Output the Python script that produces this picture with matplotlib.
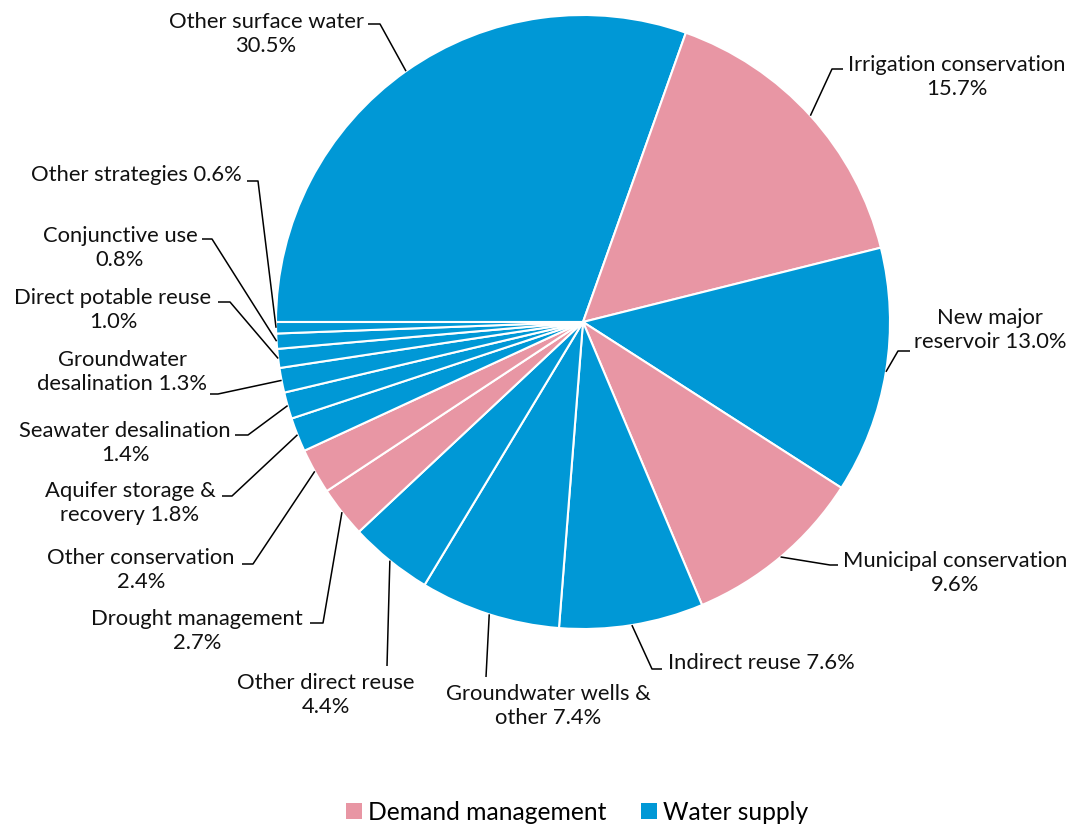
import numpy as np
import matplotlib.pyplot as plt
from matplotlib.patches import Patch

# === Data ===
labels = ["Other surface water\n30.5%", "Irrigation conservation\n15.7%",
          "New major\nreservoir 13.0%", "Municipal conservation\n9.6%",
          "Indirect reuse 7.6%", "Groundwater wells &\nother 7.4%",
          "Other direct reuse\n4.4%", "Drought management\n2.7%",
          "Other conservation\n2.4%", "Aquifer storage &\nrecovery 1.8%",
          "Seawater desalination\n1.4%", "Groundwater\ndesalination 1.3%",
          "Direct potable reuse\n1.0%", "Conjunctive use\n0.8%",
          "Other strategies 0.6%"]
shares = [30.5, 15.7, 13.0, 9.6, 7.6, 7.4, 4.4, 2.7, 2.4, 1.8, 1.4, 1.3, 1.0, 0.8, 0.6]
groups = ["supply", "demand", "supply", "demand", "supply", "supply", "supply",
          "demand", "demand", "supply", "supply", "supply", "supply", "supply", "supply"]

colors = {"demand": "#E896A4", "supply": "#0098D6"}
legend_names = {"demand": "Demand management", "supply": "Water supply"}

# === Layout (pixel coords, y from top) ===
W, H = 1070, 829
cx, cy, R = 583, 323, 307
# label block centre, then leader path after the wedge anchor
text_pos = [(266, 34), (957, 77), (990, 330), (955, 573), (761, 663),
            (548, 706), (326, 695), (197, 631), (141, 570), (130, 503),
            (125, 443), (122, 372), (113, 310), (120, 248), (136, 175)]
leader_pts = [[(380, 25), (368, 25)], [(832, 70), (843, 70)],
              [(898, 352), (910, 352)], [(830, 566), (838, 566)],
              [(652, 670), (662, 670)], [(486, 678)], [(387, 667)],
              [(323, 624), (310, 624)], [(253, 565), (242, 565)],
              [(232, 497), (222, 497)], [(248, 436), (235, 436)],
              [(218, 395), (210, 395)], [(230, 303), (218, 303)],
              [(212, 240), (202, 240)], [(258, 182), (247, 182)]]

plt.rcParams["font.family"] = ["Lato", "DejaVu Sans"]

fig = plt.figure(figsize=(W / 100, H / 100), dpi=100)
ax = fig.add_axes([0, 0, 1, 1])

wedges, _ = ax.pie(shares, colors=[colors[g] for g in groups], startangle=180,
                   counterclock=False, center=(cx, H - cy), radius=R,
                   wedgeprops=dict(edgecolor="white", linewidth=1.5))
ax.set_xlim(0, W)
ax.set_ylim(0, H)
ax.set_aspect("equal")
ax.axis("off")

# === Labels with leader lines ===
for w, lab, tp, pts in zip(wedges, labels, text_pos, leader_pts):
    ang = np.deg2rad((w.theta1 + w.theta2) / 2)
    ax0 = cx + R * np.cos(ang)
    ay0 = (H - cy) + R * np.sin(ang)
    xs = [ax0] + [p[0] for p in pts]
    ys = [ay0] + [H - p[1] for p in pts]
    ax.plot(xs, ys, color="black", lw=1.1, solid_capstyle="butt")
    ax.text(tp[0], H - tp[1], lab, ha="center", va="center", multialignment="center",
            fontsize=15.8, color="#111111", linespacing=1.22)

# === Legend ===
handles = [Patch(facecolor=colors[k], edgecolor="none", label=legend_names[k])
           for k in ["demand", "supply"]]
fig.legend(handles=handles, loc="center", bbox_to_anchor=(577 / W, 1 - 813 / H), ncol=2,
           frameon=False, fontsize=17.7, handlelength=0.66, handleheight=0.66,
           handletextpad=0.25, columnspacing=1.4)

fig.savefig("out.png", dpi=100)
